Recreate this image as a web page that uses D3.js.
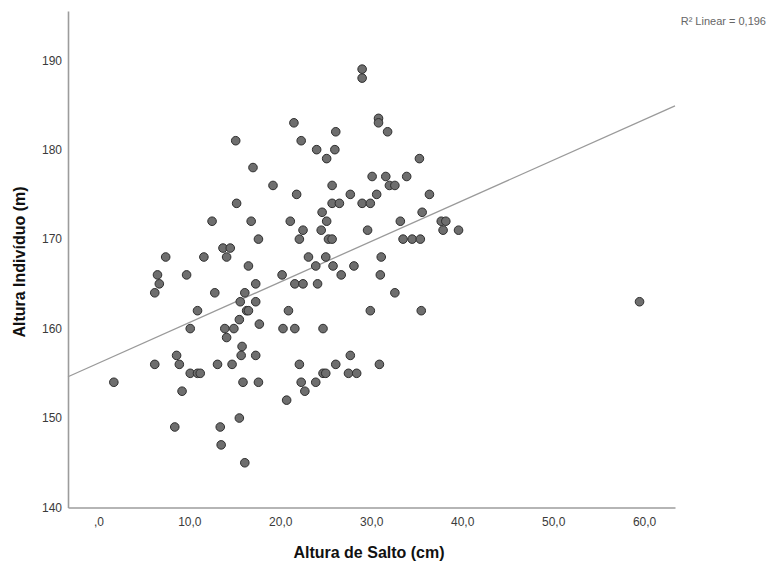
<!DOCTYPE html>
<html>
<head>
<meta charset="utf-8">
<script src="https://cdn.jsdelivr.net/npm/d3@7/dist/d3.min.js"></script>
<style>
  html, body { margin: 0; padding: 0; background: #fff; }
  svg { display: block; font-family: "Liberation Sans", Arial, sans-serif; }
</style>
</head>
<body>
<svg id="chart" width="770" height="567"></svg>
<script>
// Jump height (cm) for each individual
const jumpHeight = [
  1.7, 6.2, 6.2, 6.5, 6.7, 7.4, 8.4, 8.6, 8.9, 9.2,
  9.7, 10.1, 10.1, 10.9, 11.2, 10.9, 11.6, 12.5, 12.8, 13.1,
  13.4, 13.5, 13.7, 14.5, 13.9, 14.9, 14.1, 14.1, 14.7, 15.1,
  15.2, 15.5, 15.5, 15.6, 15.8, 15.7, 15.9, 16.1, 16.1, 16.3,
  16.5, 16.5, 16.8, 17.0, 17.3, 17.3, 17.3, 17.6, 17.6, 17.7,
  19.2, 20.2, 20.3, 20.7, 20.9, 21.1, 21.5, 21.6, 21.6, 21.8,
  22.1, 22.1, 22.3, 22.3, 22.5, 22.5, 22.7, 23.1, 23.9, 23.9,
  24.0, 24.1, 24.5, 24.6, 24.7, 24.7, 25.0, 25.0, 25.1, 25.1,
  25.3, 25.7, 25.7, 25.7, 26.5, 25.8, 26.0, 26.1, 26.1, 26.7,
  27.5, 28.4, 27.7, 27.7, 28.1, 29.0, 29.0, 29.0, 29.9, 29.6,
  29.9, 30.1, 30.6, 30.8, 30.8, 30.9, 31.0, 31.1, 31.6, 31.8,
  32.0, 32.6, 32.6, 33.2, 33.5, 33.9, 34.5, 35.3, 35.4, 35.5,
  35.6, 36.4, 37.7, 38.2, 37.9, 39.6, 59.5
];

// Height of each individual
const personHeight = [
  154, 156, 164, 166, 165, 168, 149, 157, 156, 153,
  166, 160, 155, 155, 155, 162, 168, 172, 164, 156,
  149, 147, 169, 169, 160, 160, 168, 159, 156, 181,
  174, 161, 150, 163, 158, 157, 154, 145, 164, 162,
  162, 167, 172, 178, 165, 163, 157, 170, 154, 160.5,
  176, 166, 160, 152, 162, 172, 183, 160, 165, 175,
  170, 156, 181, 154, 171, 165, 153, 168, 154, 167,
  180, 165, 171, 173, 160, 155, 155, 168, 179, 172,
  170, 170, 176, 174, 174, 167, 180, 182, 156, 166,
  155, 155, 175, 157, 167, 189, 188, 174, 174, 171,
  162, 177, 175, 183.5, 183, 156, 166, 168, 177, 182,
  176, 176, 164, 172, 170, 177, 170, 179, 170, 162,
  173, 175, 172, 172, 171, 171, 163
];

const xTickValues = [0, 10, 20, 30, 40, 50, 60];
const xTickLabels = [",0", "10,0", "20,0", "30,0", "40,0", "50,0", "60,0"];
const yTickValues = [140, 150, 160, 170, 180, 190];
const yTickLabels = ["140", "150", "160", "170", "180", "190"];

const xTitle = "Altura de Salto (cm)";
const yTitle = "Altura Indivíduo (m)";
const fitLabel = "R² Linear = 0,196";

const svg = d3.select("#chart");

const x = d3.scaleLinear().domain([-3.34, 63.4]).range([68, 675]);
const y = d3.scaleLinear().domain([140, 195.5]).range([507.5, 11]);

const axisColor = "#9c9c9c";
const textColor = "#3a3a3a";

// Axes (no tick marks, labels only)
const xAxis = d3.axisBottom(x)
  .tickValues(xTickValues)
  .tickFormat((d, i) => xTickLabels[i])
  .tickSize(0)
  .tickPadding(10);
const gx = svg.append("g").attr("transform", `translate(0,${y(140)})`).call(xAxis);
gx.select(".domain").attr("stroke", axisColor).attr("stroke-width", 1.6);
gx.selectAll("text").attr("fill", textColor).style("font-size", "12px");

const yAxis = d3.axisLeft(y)
  .tickValues(yTickValues)
  .tickFormat((d, i) => yTickLabels[i])
  .tickSize(0)
  .tickPadding(6);
const gy = svg.append("g").attr("transform", `translate(${x.range()[0]},0)`).call(yAxis);
gy.select(".domain").attr("stroke", axisColor).attr("stroke-width", 1.6);
gy.selectAll("text").attr("fill", textColor).style("font-size", "12px");

// Least-squares fit line
const n = jumpHeight.length;
const mx = d3.mean(jumpHeight), my = d3.mean(personHeight);
let sxy = 0, sxx = 0;
for (let i = 0; i < n; i++) {
  sxy += (jumpHeight[i] - mx) * (personHeight[i] - my);
  sxx += (jumpHeight[i] - mx) ** 2;
}
const slope = sxy / sxx;
const intercept = my - slope * mx;
const [x0, x1] = x.domain();
svg.append("line")
  .attr("x1", x(x0)).attr("y1", y(intercept + slope * x0))
  .attr("x2", x(x1)).attr("y2", y(intercept + slope * x1))
  .attr("stroke", "#9a9a9a")
  .attr("stroke-width", 1.3);

// Points
svg.append("g")
  .selectAll("circle")
  .data(jumpHeight.map((d, i) => [d, personHeight[i]]))
  .join("circle")
  .attr("cx", d => x(d[0]))
  .attr("cy", d => y(d[1]))
  .attr("r", 4.3)
  .attr("fill", "#6e6e6e")
  .attr("stroke", "#2e2e2e")
  .attr("stroke-width", 1);

// Titles
svg.append("text")
  .attr("x", 369).attr("y", 558)
  .attr("text-anchor", "middle")
  .attr("fill", "#111")
  .style("font-size", "16px")
  .style("font-weight", "bold")
  .text(xTitle);

svg.append("text")
  .attr("transform", "translate(25,262) rotate(-90)")
  .attr("text-anchor", "middle")
  .attr("fill", "#111")
  .style("font-size", "16px")
  .style("font-weight", "bold")
  .text(yTitle);

svg.append("text")
  .attr("x", 766).attr("y", 25)
  .attr("text-anchor", "end")
  .attr("fill", "#666")
  .style("font-size", "11px")
  .text(fitLabel);
</script>
</body>
</html>
